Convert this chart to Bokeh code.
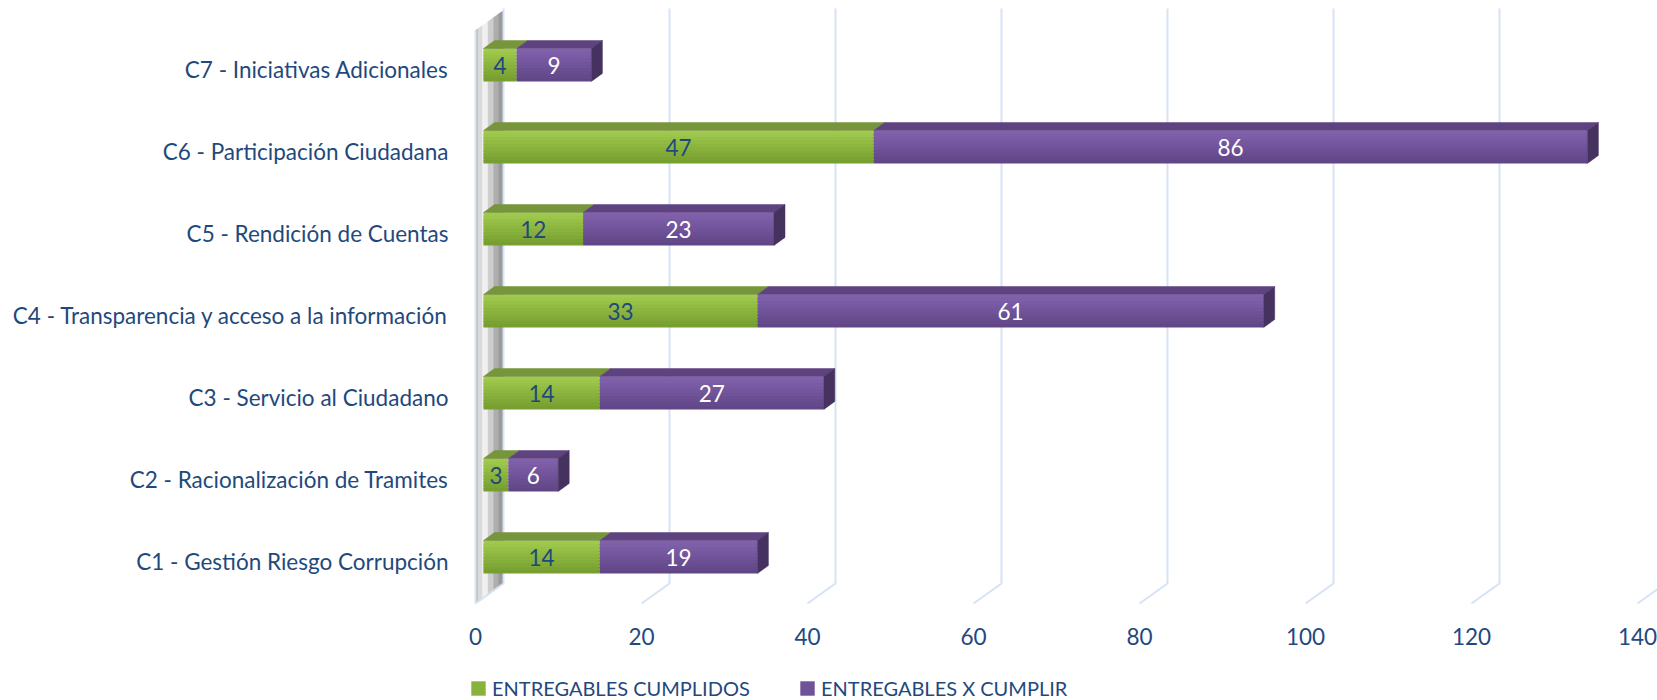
import numpy as np
from bokeh.plotting import figure
from bokeh.models import Range1d, FixedTicker, Legend, LegendItem, LinearAxis
from bokeh.core.properties import value
from bokeh.embed import file_html
from bokeh.resources import INLINE

# ---------------- data ----------------
categories = [
    "C1 - Gestión Riesgo Corrupción",
    "C2 - Racionalización de Tramites",
    "C3 - Servicio al Ciudadano",
    "C4 - Transparencia y acceso a la información",
    "C5 - Rendición de Cuentas",
    "C6 - Participación Ciudadana",
    "C7 - Iniciativas Adicionales",
]
cumplidos = [14, 3, 14, 33, 12, 47, 4]
por_cumplir = [19, 6, 27, 61, 23, 86, 9]
series_names = ["ENTREGABLES CUMPLIDOS", "ENTREGABLES X CUMPLIR"]
x_ticks = [0, 20, 40, 60, 80, 100, 120, 140]

# ---------------- style ----------------
FONT = "Lato"
TEXT_COLOR = "#1F497D"
GRID_COLOR = "#D6E3F4"
W, H = 1657, 700

# 3D projection offsets (data units)
X_START, X_END = -2.41, 142.41
FLOOR_Y = -0.512
Y_START = -1.695
TOP_Y = 6.841
GRID_TOP = 6.744
WALL_TOP = 6.476
WALL_DX, WALL_DY = 3.373, 0.244
FRONT_OFF = 0.964
BAR_DX, BAR_DY = 1.325, 0.0976
BAR_HALF = 0.201
BAR_YSHIFT = 0.055
N_BANDS = 10

face_grad = [("#A0CA4E", "#769E30"), ("#8161AC", "#604687")]
top_colors = ["#77953A", "#5E4380"]
side_color = "#45325F"
label_colors = [TEXT_COLOR, "#FFFFFF"]


def hex2rgb(h):
    h = h.lstrip("#")
    return np.array([int(h[i:i + 2], 16) for i in (0, 2, 4)], dtype=float)


def lerp(c1, c2, t):
    a, b = hex2rgb(c1), hex2rgb(c2)
    c = a + (b - a) * t
    return "#%02X%02X%02X" % tuple(int(round(v)) for v in c)


p = figure(width=W, height=H, output_backend="svg", toolbar_location=None,
           x_range=Range1d(X_START, X_END), y_range=Range1d(Y_START, TOP_Y),
           min_border_left=455, min_border_right=0, min_border_top=0,
           min_border_bottom=0, background_fill_color="white",
           border_fill_color="white", x_axis_location=None)
p.outline_line_color = None
p.xgrid.visible = False
p.ygrid.visible = False

# ---------------- wall ----------------
wall_f = [0.0, 0.1, 0.25, 0.45, 0.65, 0.82, 1.0]
wall_c = ["#BEBEBE", "#DADADA", "#F0F0F0", "#CDCDCD", "#AEAEAE", "#9A9A9A"]
wxs, wys = [], []
for f0, f1 in zip(wall_f[:-1], wall_f[1:]):
    wxs.append([f0 * WALL_DX, f1 * WALL_DX, f1 * WALL_DX, f0 * WALL_DX])
    wys.append([FLOOR_Y + f0 * WALL_DY, FLOOR_Y + f1 * WALL_DY,
                WALL_TOP + f1 * WALL_DY, WALL_TOP + f0 * WALL_DY])
p.patches(wxs, wys, fill_color=wall_c, line_color=wall_c, line_width=0.5)

# ---------------- gridlines ----------------
gxs, gys = [], []
for v in x_ticks:
    gxs.append([v, v + WALL_DX, v + WALL_DX])
    gys.append([FLOOR_Y, FLOOR_Y + WALL_DY, GRID_TOP])
gxs.append([0, 0])
gys.append([FLOOR_Y, WALL_TOP])
p.multi_line(gxs, gys, line_color=GRID_COLOR, line_width=2)

# ---------------- bars ----------------
series = [cumplidos, por_cumplir]
left = np.zeros(len(categories))
centers = np.arange(len(categories)) + BAR_YSHIFT
band_renderers = []
band_h = 2 * BAR_HALF / N_BANDS
for s, vals in enumerate(series):
    vals = np.array(vals, dtype=float)
    x0 = left + FRONT_OFF
    x1 = x0 + vals
    # front face (gradient bands, overlapping to avoid seams)
    qb_l, qb_r, qb_t, qb_b, qb_c = [], [], [], [], []
    for k in range(N_BANDS):
        t = k / (N_BANDS - 1)
        col = lerp(face_grad[s][0], face_grad[s][1], t)
        top = centers + BAR_HALF - band_h * k
        ext = 0.5 * band_h if k < N_BANDS - 1 else 0.0
        bot = centers + BAR_HALF - band_h * (k + 1) - ext
        qb_l += list(x0); qb_r += list(x1); qb_t += list(top); qb_b += list(bot)
        qb_c += [col] * len(vals)
    br = p.quad(left=qb_l, right=qb_r, top=qb_t, bottom=qb_b,
                fill_color=qb_c, line_color=None)
    band_renderers.append(br)
    # top face
    txs, tys = [], []
    for a, b, c in zip(x0, x1, centers):
        t = c + BAR_HALF
        txs.append([a, b, b + BAR_DX, a + BAR_DX])
        tys.append([t, t, t + BAR_DY, t + BAR_DY])
    p.patches(txs, tys, fill_color=top_colors[s], line_color=top_colors[s],
              line_width=0.5)
    # side face at end of stack
    if s == len(series) - 1:
        sxs, sys_ = [], []
        for b, c in zip(x1, centers):
            sxs.append([b, b + BAR_DX, b + BAR_DX, b])
            sys_.append([c - BAR_HALF, c - BAR_HALF + BAR_DY,
                         c + BAR_HALF + BAR_DY, c + BAR_HALF])
        p.patches(sxs, sys_, fill_color=side_color, line_color=side_color,
                  line_width=0.5)
    # value labels
    p.text(x=list((x0 + x1) / 2), y=list(centers - 0.012),
           text=[str(int(v)) for v in vals], text_align="center",
           text_baseline="middle", text_font=value(FONT),
           text_font_size="22.5px", text_color=label_colors[s])
    left = left + vals

# ---------------- axes ----------------
xaxis = LinearAxis(ticker=FixedTicker(ticks=x_ticks), fixed_location=FLOOR_Y)
xaxis.axis_line_color = None
xaxis.major_tick_line_color = None
xaxis.minor_tick_line_color = None
xaxis.major_label_standoff = 19
xaxis.major_label_text_font = FONT
xaxis.major_label_text_font_size = "22.5px"
xaxis.major_label_text_color = TEXT_COLOR
p.add_layout(xaxis, "below")

p.yaxis.ticker = FixedTicker(ticks=list(range(len(categories))))
p.yaxis.major_label_overrides = {i: c for i, c in enumerate(categories)}
p.yaxis.axis_line_color = None
p.yaxis.major_tick_line_color = None
p.yaxis.minor_tick_line_color = None
p.yaxis.major_label_standoff = 1
p.yaxis.major_label_text_font = FONT
p.yaxis.major_label_text_font_size = "22.5px"
p.yaxis.major_label_text_color = TEXT_COLOR

# ---------------- legend ----------------
leg_locs = [(14, 0), (343, 0)]
mid_row = (N_BANDS // 2) * len(categories)
for s in range(2):
    leg = Legend(items=[LegendItem(label=series_names[s],
                                   renderers=[band_renderers[s]],
                                   index=mid_row)],
                 location=leg_locs[s], orientation="horizontal",
                 padding=0, margin=0, spacing=0, label_standoff=5,
                 glyph_width=18, glyph_height=18,
                 border_line_color=None, background_fill_alpha=0,
                 label_text_font=FONT, label_text_font_size="20px",
                 label_text_color=TEXT_COLOR)
    p.add_layout(leg)

open("out.html", "w").write(file_html(p, INLINE))
